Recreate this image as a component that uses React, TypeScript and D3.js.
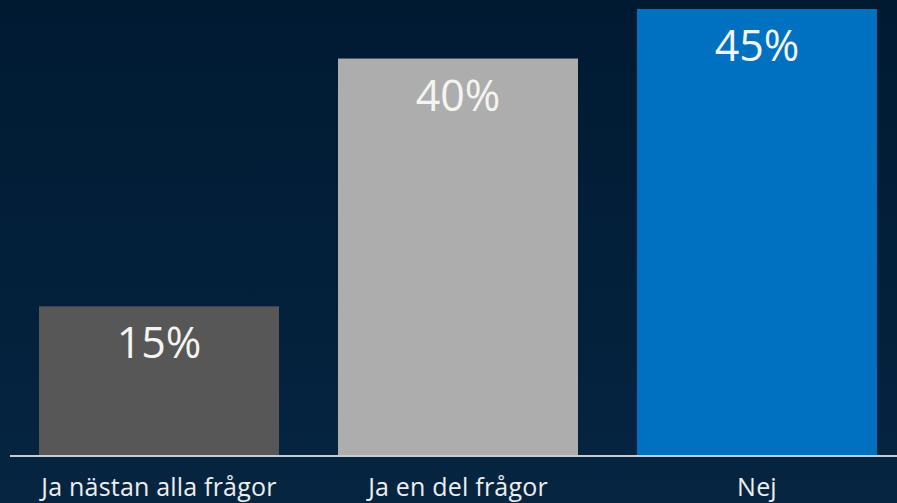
import React from "react";
import * as d3 from "d3";

const categories = ["Ja nästan alla frågor", "Ja en del frågor", "Nej"];
const values = [15, 40, 45];
const barColors = ["#575757", "#adadad", "#0070c0"];

const W = 897;
const H = 503;
const margin = { top: 9, right: 20, bottom: 48, left: 39 };

export default function App() {
  const x = d3
    .scaleBand<string>()
    .domain(categories)
    .range([margin.left - 29.5, W - margin.right + 29.5])
    .paddingInner(59 / 299)
    .paddingOuter(29.5 / 299);

  const y = d3
    .scaleLinear()
    .domain([0, 45])
    .range([H - margin.bottom, margin.top]);

  const font = "'Open Sans', sans-serif";

  return (
    <svg
      width={W}
      height={H}
      style={{ position: "fixed", left: 0, top: 0, display: "block" }}
    >
      <defs>
        <linearGradient id="bg" x1="0" y1="0" x2="0" y2="1">
          <stop offset="0%" stopColor="#001a32" />
          <stop offset="100%" stopColor="#062541" />
        </linearGradient>
      </defs>
      <rect x={0} y={0} width={W} height={H} fill="url(#bg)" />

      {categories.map((c, i) => (
        <g key={c}>
          <rect
            x={x(c)}
            y={y(values[i])}
            width={x.bandwidth()}
            height={y(0) - y(values[i])}
            fill={barColors[i]}
          />
          <text
            x={(x(c) ?? 0) + x.bandwidth() / 2}
            y={y(values[i]) + 52}
            textAnchor="middle"
            fill="#f4f4f0"
            fontFamily={font}
            fontSize={43}
          >
            {values[i]}%
          </text>
          <text
            x={(x(c) ?? 0) + x.bandwidth() / 2}
            y={H - 7}
            textAnchor="middle"
            fill="#eeeeee"
            fontFamily={font}
            fontSize={25}
            letterSpacing={0.2}
          >
            {c}
          </text>
        </g>
      ))}

      <line
        x1={10}
        x2={W}
        y1={y(0) + 1}
        y2={y(0) + 1}
        stroke="#c9ccd0"
        strokeWidth={2}
      />
    </svg>
  );
}
